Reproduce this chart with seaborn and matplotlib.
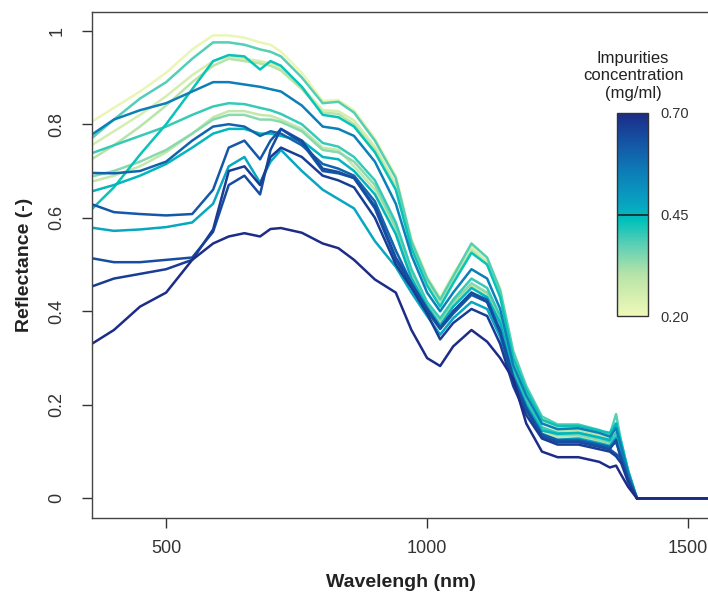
import matplotlib
matplotlib.use("Agg")
import pandas as pd
import matplotlib.pyplot as plt
import seaborn as sns
from matplotlib.colors import LinearSegmentedColormap, Normalize
from matplotlib.cm import ScalarMappable

wavelength = [350, 400, 450, 500, 550, 590, 620, 650, 680, 700,
              720, 760, 800, 830, 860, 900, 940, 970, 1000, 1025,
              1050, 1085, 1115, 1140, 1165, 1190, 1220, 1250, 1290, 1330,
              1350, 1362, 1372, 1385, 1402, 1550]

# one reflectance spectrum per sample
s01 = [0.800, 0.835, 0.870, 0.910, 0.960, 0.990, 0.990, 0.985, 0.975, 0.970,
       0.955, 0.910, 0.850, 0.852, 0.830, 0.770, 0.690, 0.555, 0.475, 0.430,
       0.480, 0.540, 0.510, 0.450, 0.310, 0.235, 0.170, 0.152, 0.152, 0.140,
       0.130, 0.150, 0.110, 0.060, 0.000, 0.000]
s02 = [0.763, 0.810, 0.855, 0.890, 0.940, 0.975, 0.975, 0.970, 0.960, 0.955,
       0.945, 0.900, 0.845, 0.848, 0.825, 0.765, 0.685, 0.550, 0.470, 0.425,
       0.475, 0.545, 0.515, 0.445, 0.315, 0.240, 0.175, 0.158, 0.158, 0.146,
       0.136, 0.180, 0.120, 0.060, 0.000, 0.000]
s03 = [0.750, 0.785, 0.820, 0.860, 0.905, 0.935, 0.945, 0.940, 0.935, 0.930,
       0.920, 0.880, 0.830, 0.828, 0.808, 0.752, 0.672, 0.545, 0.465, 0.420,
       0.470, 0.535, 0.505, 0.440, 0.305, 0.232, 0.166, 0.150, 0.150, 0.138,
       0.128, 0.140, 0.105, 0.055, 0.000, 0.000]
s04 = [0.720, 0.755, 0.795, 0.840, 0.890, 0.925, 0.940, 0.935, 0.930, 0.925,
       0.915, 0.875, 0.825, 0.822, 0.800, 0.745, 0.665, 0.540, 0.460, 0.415,
       0.465, 0.530, 0.500, 0.435, 0.300, 0.228, 0.162, 0.146, 0.146, 0.135,
       0.125, 0.130, 0.100, 0.050, 0.000, 0.000]
s05 = [0.610, 0.665, 0.735, 0.800, 0.875, 0.935, 0.948, 0.945, 0.917, 0.935,
       0.925, 0.880, 0.820, 0.815, 0.795, 0.740, 0.660, 0.535, 0.455, 0.410,
       0.460, 0.525, 0.500, 0.430, 0.300, 0.232, 0.168, 0.155, 0.155, 0.145,
       0.140, 0.160, 0.120, 0.060, 0.000, 0.000]
s06 = [0.772, 0.810, 0.830, 0.845, 0.870, 0.890, 0.890, 0.885, 0.880, 0.875,
       0.870, 0.840, 0.795, 0.790, 0.775, 0.720, 0.630, 0.520, 0.440, 0.400,
       0.440, 0.490, 0.470, 0.405, 0.285, 0.220, 0.160, 0.148, 0.150, 0.140,
       0.132, 0.150, 0.110, 0.055, 0.000, 0.000]
s07 = [0.735, 0.755, 0.775, 0.795, 0.820, 0.838, 0.845, 0.843, 0.835, 0.830,
       0.822, 0.800, 0.760, 0.752, 0.730, 0.680, 0.590, 0.490, 0.420, 0.385,
       0.425, 0.470, 0.450, 0.390, 0.275, 0.210, 0.152, 0.140, 0.140, 0.130,
       0.122, 0.140, 0.100, 0.050, 0.000, 0.000]
s08 = [0.686, 0.700, 0.720, 0.745, 0.780, 0.810, 0.820, 0.820, 0.810, 0.810,
       0.805, 0.785, 0.745, 0.740, 0.720, 0.670, 0.580, 0.480, 0.415, 0.380,
       0.420, 0.460, 0.440, 0.385, 0.270, 0.205, 0.148, 0.135, 0.135, 0.125,
       0.118, 0.130, 0.095, 0.050, 0.000, 0.000]
s09 = [0.675, 0.690, 0.710, 0.740, 0.780, 0.815, 0.828, 0.828, 0.820, 0.818,
       0.810, 0.790, 0.750, 0.745, 0.710, 0.660, 0.575, 0.478, 0.412, 0.375,
       0.415, 0.455, 0.435, 0.380, 0.268, 0.200, 0.145, 0.130, 0.130, 0.120,
       0.114, 0.125, 0.090, 0.045, 0.000, 0.000]
s10 = [0.654, 0.670, 0.690, 0.715, 0.750, 0.780, 0.790, 0.790, 0.780, 0.780,
       0.775, 0.765, 0.730, 0.725, 0.700, 0.650, 0.565, 0.470, 0.410, 0.370,
       0.410, 0.450, 0.430, 0.375, 0.265, 0.200, 0.145, 0.138, 0.140, 0.130,
       0.125, 0.160, 0.110, 0.050, 0.000, 0.000]
s11 = [0.696, 0.695, 0.700, 0.720, 0.765, 0.795, 0.800, 0.795, 0.775, 0.785,
       0.780, 0.755, 0.715, 0.705, 0.690, 0.635, 0.530, 0.460, 0.405, 0.365,
       0.400, 0.440, 0.425, 0.360, 0.260, 0.195, 0.138, 0.125, 0.125, 0.115,
       0.110, 0.120, 0.090, 0.045, 0.000, 0.000]
s12 = [0.632, 0.612, 0.608, 0.605, 0.608, 0.660, 0.750, 0.765, 0.725, 0.765,
       0.790, 0.760, 0.700, 0.695, 0.685, 0.620, 0.510, 0.455, 0.400, 0.362,
       0.395, 0.435, 0.420, 0.355, 0.255, 0.190, 0.135, 0.122, 0.122, 0.112,
       0.105, 0.095, 0.085, 0.040, 0.000, 0.000]
s13 = [0.580, 0.572, 0.575, 0.580, 0.590, 0.630, 0.710, 0.730, 0.675, 0.720,
       0.745, 0.700, 0.660, 0.640, 0.620, 0.550, 0.495, 0.440, 0.390, 0.350,
       0.385, 0.420, 0.405, 0.345, 0.250, 0.188, 0.135, 0.125, 0.128, 0.118,
       0.112, 0.130, 0.090, 0.045, 0.000, 0.000]
s14 = [0.515, 0.505, 0.505, 0.510, 0.515, 0.570, 0.670, 0.690, 0.650, 0.745,
       0.790, 0.765, 0.705, 0.698, 0.685, 0.625, 0.515, 0.460, 0.405, 0.365,
       0.400, 0.440, 0.420, 0.355, 0.255, 0.190, 0.132, 0.120, 0.120, 0.110,
       0.105, 0.125, 0.080, 0.040, 0.000, 0.000]
s15 = [0.450, 0.470, 0.480, 0.490, 0.510, 0.575, 0.700, 0.710, 0.670, 0.730,
       0.750, 0.730, 0.690, 0.680, 0.665, 0.600, 0.500, 0.450, 0.395, 0.340,
       0.375, 0.405, 0.390, 0.330, 0.240, 0.178, 0.128, 0.115, 0.115, 0.105,
       0.100, 0.090, 0.075, 0.035, 0.000, 0.000]
s16 = [0.325, 0.360, 0.410, 0.440, 0.510, 0.545, 0.560, 0.567, 0.560, 0.576,
       0.578, 0.568, 0.545, 0.535, 0.510, 0.468, 0.440, 0.360, 0.300, 0.283,
       0.325, 0.360, 0.335, 0.300, 0.255, 0.160, 0.100, 0.088, 0.088, 0.078,
       0.066, 0.070, 0.050, 0.025, 0.000, 0.000]

spectra = [s01, s02, s03, s04, s05, s06, s07, s08,
           s09, s10, s11, s12, s13, s14, s15, s16]
concentration = [0.21, 0.38, 0.25, 0.30, 0.43, 0.55, 0.40, 0.34,
                 0.28, 0.45, 0.60, 0.62, 0.47, 0.64, 0.67, 0.70]

rows = []
for i, (c, vals) in enumerate(zip(concentration, spectra)):
    for w, v in zip(wavelength, vals):
        rows.append({"sample": i, "conc": c, "wavelength": w, "reflectance": v})
df = pd.DataFrame(rows)

cmap = LinearSegmentedColormap.from_list("imp", [
    (0.00, "#f0f8b8"), (0.20, "#b8e4a8"), (0.35, "#5ccfb4"), (0.47, "#00c2ba"),
    (0.55, "#08a4c2"), (0.70, "#0c80b8"), (0.85, "#1456a6"), (1.00, "#1c2c88")])
norm = Normalize(0.2, 0.7)

sns.set_style("ticks")
plt.rcParams['font.family'] = ['Liberation Sans', 'DejaVu Sans']

fig = plt.figure(figsize=(7.08, 5.95), dpi=100)
ax = fig.add_axes([92 / 708, 77 / 595, 618 / 708, 506 / 595])

sns.lineplot(data=df, x="wavelength", y="reflectance", hue="conc", units="sample",
             estimator=None, sort=False, palette=cmap, hue_norm=norm,
             legend=False, lw=1.8, ax=ax)

ax.set_xlim(358, 1542)
ax.set_ylim(-0.042, 1.04)
ax.set_xticks([500, 1000, 1500])
ax.set_yticks([0, 0.2, 0.4, 0.6, 0.8, 1])
ax.set_yticklabels(["0", "0.2", "0.4", "0.6", "0.8", "1"], rotation=90, va="center")
ax.tick_params(direction="out", length=7, width=1, color="#333333",
               labelsize=13, labelcolor="#333333")
ax.tick_params(axis="y", pad=12)
ax.tick_params(axis="x", pad=9)
for s in ax.spines.values():
    s.set_color("#444444")
    s.set_linewidth(1)

ax.set_xlabel("Wavelengh (nm)", fontsize=14, fontweight="bold", color="#222222")
ax.set_ylabel("Reflectance (-)", fontsize=14, fontweight="bold", color="#222222")
ax.xaxis.set_label_coords(0.5, -0.128)
ax.xaxis.label.set_va("center")
ax.yaxis.set_label_coords(-0.110, 0.5)
ax.yaxis.label.set_va("center")

# colour bar
cax = fig.add_axes([617 / 708, (595 - 316) / 595, 31 / 708, 203 / 595])
cb = fig.colorbar(ScalarMappable(norm=norm, cmap=cmap), cax=cax)
cb.set_ticks([0.2, 0.45, 0.7])
cb.set_ticklabels(["0.20", "0.45", "0.70"])
cax.tick_params(length=0, labelsize=10.5, pad=9, labelcolor="#333333")
cb.outline.set_edgecolor("#333333")
cb.outline.set_linewidth(1)
cax.axhline(0.45, color="#222222", lw=1.2)

fig.text(633 / 708, 1 - 76 / 595, "Impurities\nconcentration\n(mg/ml)",
         ha="center", va="center", fontsize=12, color="#222222", linespacing=1.2)

plt.savefig("out.png", dpi=100)
